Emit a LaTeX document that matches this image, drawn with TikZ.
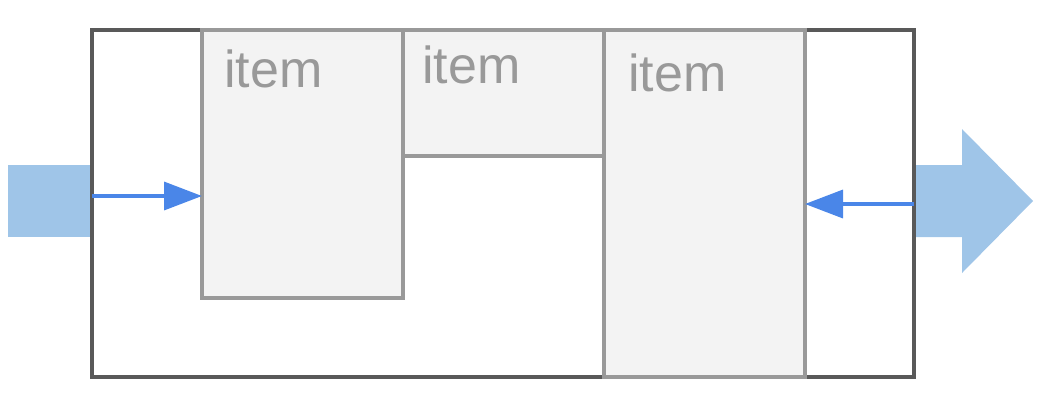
\documentclass[tikz,border=0pt]{standalone}
\usepackage{fontspec}
\setmainfont{Liberation Sans}
\usetikzlibrary{arrows.meta,positioning}
\definecolor{frameGray}{HTML}{595959}
\definecolor{itemGray}{HTML}{999999}
\definecolor{itemFill}{HTML}{F3F3F3}
\definecolor{flowBlue}{HTML}{4A86E8}
\definecolor{portBlue}{HTML}{9FC5E8}
\tikzset{
  frame/.style={draw=frameGray, line width=1.75pt},
  itembox/.style={draw=itemGray, fill=itemFill, line width=1.75pt, rectangle,
    inner sep=0pt, outer sep=0pt, anchor=north west, minimum width=100.5pt},
  itemlabel/.style={itemGray, anchor=base west, inner sep=0pt,
    font=\fontsize{26}{30}\selectfont},
  flow/.style={draw=flowBlue, line width=1.75pt, -{Triangle[length=19pt,width=14pt]}},
  port/.style={fill=portBlue}
}
\begin{document}
\begin{tikzpicture}[x=0.5pt,y=-0.5pt]
  \useasboundingbox (0,0) rectangle (1044,408);
  % Ports
  \fill[port] (8,165) rectangle (92,237);
  \fill[port] (914,165) -- (962,165) -- (962,129) -- (1033,201)
    -- (962,273) -- (962,237) -- (914,237) -- cycle;
  % Outer frame
  \draw[frame] (92,30) rectangle (914,377);
  % Items
  \node[itembox, minimum height=134pt] (item1) at (202,30) {};
  \node[itembox, minimum height=63pt] (item2) at (403,30) {};
  \node[itembox, minimum height=173.5pt] (item3) at (604,30) {};
  \node[itemlabel] at (224,87) {item};
  \node[itemlabel] at (422,83) {item};
  \node[itemlabel] at (628,91) {item};
  % Flows
  \coordinate (in) at (92,196);
  \coordinate (out) at (914,204);
  \draw[flow] (in) -- (in -| item1.west);
  \draw[flow] (out) -- (out -| item3.east);
\end{tikzpicture}
\end{document}
